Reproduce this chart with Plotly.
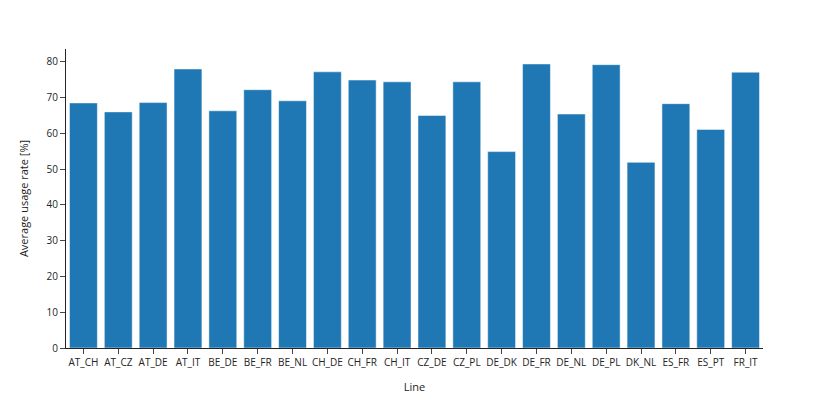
import plotly.graph_objects as go

lines = ["AT_CH", "AT_CZ", "AT_DE", "AT_IT", "BE_DE", "BE_FR", "BE_NL", "CH_DE", "CH_FR", "CH_IT",
         "CZ_DE", "CZ_PL", "DE_DK", "DE_FR", "DE_NL", "DE_PL", "DK_NL", "ES_FR", "ES_PT", "FR_IT"]
usage = [68.5, 66.0, 68.6, 78.0, 66.3, 72.2, 69.1, 77.2, 74.9, 74.4,
         65.0, 74.4, 54.9, 79.4, 65.4, 79.2, 51.9, 68.3, 61.1, 77.1]

fig = go.Figure(go.Bar(x=lines, y=usage, marker=dict(color="#1f77b4")))
fig.update_layout(
    template="simple_white",
    width=822, height=407,
    margin=dict(l=58, r=67, t=41, b=67),
    font=dict(size=10),
    xaxis=dict(title=dict(text="Line", font=dict(size=11)), tickangle=0),
    yaxis=dict(title=dict(text="Average usage rate [%]", font=dict(size=11)), dtick=10),
    showlegend=False,
)
fig.write_html("out.html")
